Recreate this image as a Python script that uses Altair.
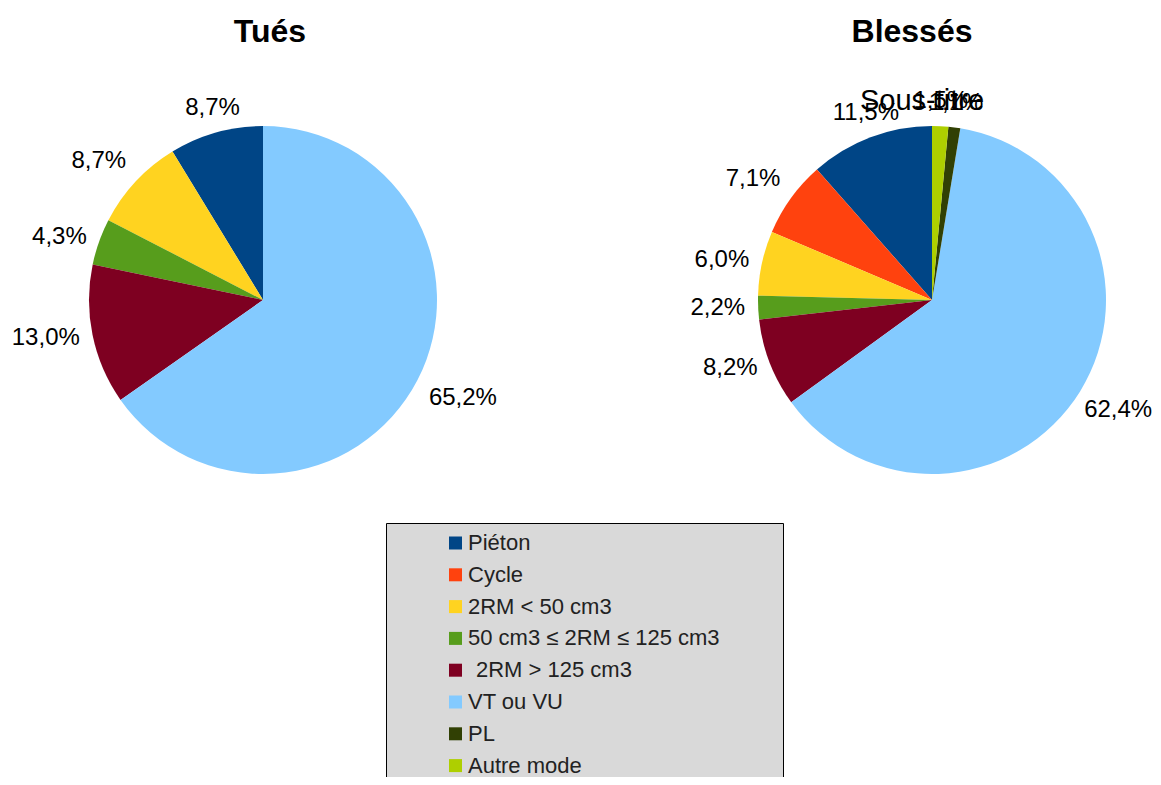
import math
import altair as alt
import pandas as pd

categories = ["Piéton", "Cycle", "2RM < 50 cm3", "50 cm3 ≤ 2RM ≤ 125 cm3",
              " 2RM > 125 cm3", "VT ou VU", "PL", "Autre mode"]
colors = ["#004586", "#ff420e", "#ffd320", "#579d1c",
          "#7e0021", "#83caff", "#314004", "#aecf00"]
tues = [8.7, 0.0, 8.7, 4.3, 13.0, 65.2, 0.0, 0.0]
blesses = [11.5, 7.1, 6.0, 2.2, 8.2, 62.4, 1.1, 1.5]

FONT = "Liberation Sans"
color_scale = alt.Scale(domain=categories, range=colors)
theta_scale = alt.Scale(domain=[0, 1], range=[0, 2 * math.pi])

# label placement per angular sector (LibreOffice style: box corner at anchor)
SECTORS = [("center", "bottom"), ("left", "bottom"), ("left", "middle"), ("left", "top"),
           ("center", "top"), ("right", "top"), ("right", "middle"), ("right", "bottom")]


def make_df(values):
    return pd.DataFrame({
        "cat": categories,
        "v": values,
        "ord": [len(categories) - i for i in range(len(categories))],
        "lab": [f"{v:.1f}%".replace(".", ",") for v in values],
    })


def pie(values, cx, cy, right_dx=0):
    base = alt.Chart(make_df(values)).transform_joinaggregate(
        total="sum(v)"
    ).transform_calculate(
        f="datum.v / datum.total"
    )
    arcs = base.mark_arc(outerRadius=174).encode(
        theta=alt.Theta("f:Q", stack=True, scale=theta_scale),
        order=alt.Order("ord:Q"),
        color=alt.Color("cat:N", scale=color_scale, legend=None),
        x=alt.value(cx), y=alt.value(cy),
    )
    lab_base = base.transform_window(
        cum="sum(f)", sort=[alt.SortField("ord")], frame=[None, 0]
    ).transform_calculate(
        mid="datum.cum - datum.f / 2"
    ).transform_calculate(
        sector="floor(((datum.mid * 360 + 22.5) % 360) / 45)"
    ).transform_filter("datum.v > 0")
    layers = [arcs]
    for k, (al, bl) in enumerate(SECTORS):
        layers.append(
            lab_base.transform_filter(f"datum.sector == {k}").mark_text(
                radius=187, font=FONT, fontSize=24, color="black",
                align=al, baseline=bl, dx=(right_dx if al == "left" else 0)
            ).encode(
                theta=alt.Theta("mid:Q", stack=None, scale=theta_scale),
                text="lab:N", x=alt.value(cx), y=alt.value(cy),
            )
        )
    return alt.layer(*layers)


def text(t, x, y, size, weight="normal"):
    return alt.Chart(pd.DataFrame({"t": [t]})).mark_text(
        font=FONT, fontSize=size, fontWeight=weight, color="black",
        align="center", baseline="middle"
    ).encode(text="t:N", x=alt.value(x), y=alt.value(y))


left = pie(tues, 255, 292)
right = pie(blesses, 924, 292, right_dx=-7)

titles = (text("Tués", 262, 24, 32, "bold") + text("Blessés", 904, 24, 32, "bold")
          + text("Sous-titre", 914, 93, 29))

# legend
leg_df = pd.DataFrame({"cat": categories, "i": list(range(len(categories)))})
leg_base = alt.Chart(leg_df).transform_calculate(
    ly="535 + datum.i * 31.8",
    lx="460 + (indexof(datum.cat, ' ') == 0 ? 8 : 0)",
    shown="trim(datum.cat)",
)
leg_bg = alt.Chart(pd.DataFrame({"a": [0]})).mark_rect(
    fill="#d9d9d9", stroke="black", strokeWidth=1
).encode(x=alt.value(378.5), x2=alt.value(775.5), y=alt.value(515.5), y2=alt.value(800))
leg_sq = leg_base.mark_square(size=169, opacity=1).encode(
    x=alt.value(447.5),
    y=alt.Y("ly:Q", scale=None),
    color=alt.Color("cat:N", scale=color_scale, legend=None),
)
leg_txt = leg_base.mark_text(
    align="left", baseline="middle", font=FONT, fontSize=22, color="#222222"
).encode(x=alt.X("lx:Q", scale=None), y=alt.Y("ly:Q", scale=None), text="shown:N")

chart = alt.layer(leg_bg, leg_sq, leg_txt, left, right, titles).properties(
    width=1145, height=769, autosize="none", padding=0
).configure_view(stroke=None)

chart.save("out.html", embed_options={"renderer": "svg", "actions": False})
